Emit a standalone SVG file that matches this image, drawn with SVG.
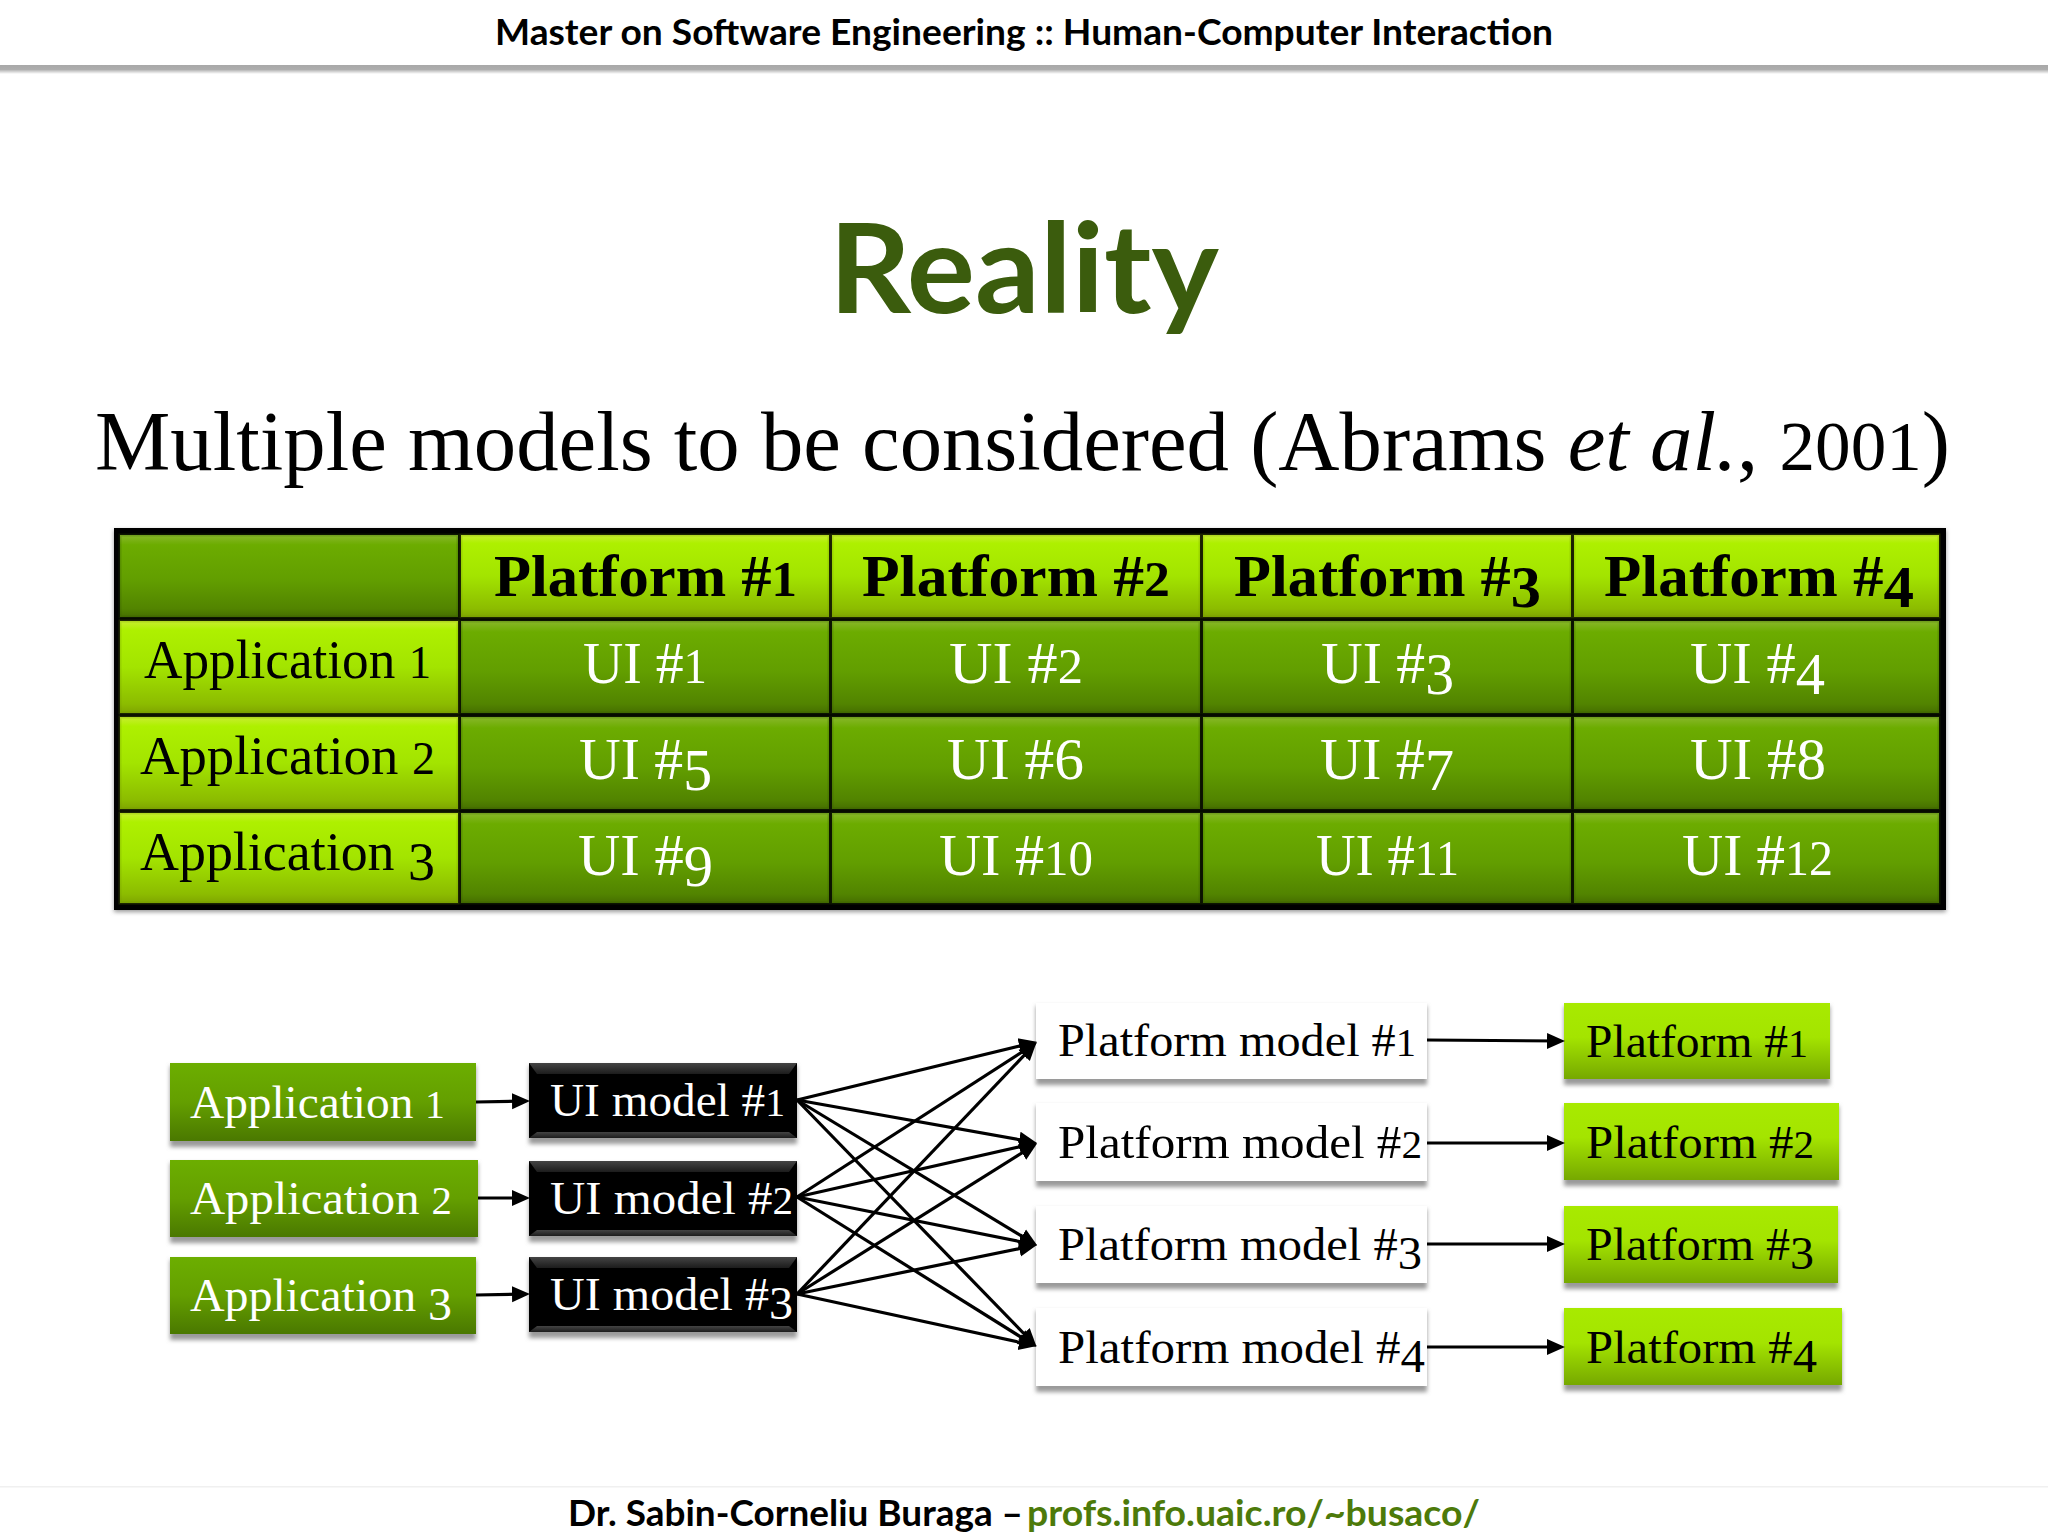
<svg xmlns="http://www.w3.org/2000/svg" width="2048" height="1536" viewBox="0 0 2048 1536">
<defs>
<linearGradient id="light" x1="0" y1="0" x2="0" y2="1"><stop offset="0" stop-color="#c8ee30"/><stop offset=".1" stop-color="#aef000"/><stop offset=".5" stop-color="#a3e400"/><stop offset=".9" stop-color="#8cbc00"/><stop offset="1" stop-color="#7fa600"/></linearGradient>
<linearGradient id="dark" x1="0" y1="0" x2="0" y2="1"><stop offset="0" stop-color="#88b82a"/><stop offset=".12" stop-color="#6cac00"/><stop offset=".55" stop-color="#629e00"/><stop offset=".9" stop-color="#528400"/><stop offset="1" stop-color="#466f00"/></linearGradient>
<linearGradient id="lime" x1="0" y1="0" x2="0" y2="1"><stop offset="0" stop-color="#a8ea00"/><stop offset=".45" stop-color="#a4e400"/><stop offset="1" stop-color="#76a800"/></linearGradient>
<linearGradient id="moss" x1="0" y1="0" x2="0" y2="1"><stop offset="0" stop-color="#6cae00"/><stop offset=".5" stop-color="#649f00"/><stop offset="1" stop-color="#4a7800"/></linearGradient>
<linearGradient id="strip" x1="0" y1="0" x2="0" y2="1"><stop offset="0" stop-color="#444"/><stop offset="1" stop-color="#1c1c1c"/></linearGradient>
<linearGradient id="band" x1="0" y1="0" x2="0" y2="1"><stop offset="0" stop-color="#a8a8a8"/><stop offset=".5" stop-color="#aeaeae"/><stop offset="1" stop-color="#fff"/></linearGradient>
<filter id="soft" x="-5%" y="-20%" width="110%" height="140%"><feGaussianBlur stdDeviation="2"/></filter>
<marker id="ah" markerUnits="userSpaceOnUse" markerWidth="18" markerHeight="18" refX="13" refY="9" orient="auto"><path d="M0 1L18 9L0 17Z" fill="#000"/></marker>
</defs>
<style>
.ser{font-family:"Liberation Serif","Times New Roman",serif}
.san{font-family:Lato,"Liberation Sans",sans-serif;font-weight:700}
.hd{font-size:60px;font-weight:700;fill:#000}
.app{font-size:54px;fill:#000}
.ui{font-size:60px;fill:#fff}
.lb{font-size:47px}
.w{fill:#fff}
.k{fill:#000}
.x{font-size:84%}
.sh{fill:#9a9a9a;filter:url(#soft)}
.c{stroke:#000;stroke-width:3.2;fill:none;marker-end:url(#ah)}
.li{fill:url(#light);stroke:#6f9200;stroke-opacity:.25;stroke-width:3}
.da{fill:url(#dark);stroke:#2f5500;stroke-opacity:.25;stroke-width:3}
.lm{fill:url(#lime)}
.ms{fill:url(#moss)}
.bk{fill:#000}
.st{fill:url(#strip)}
</style>
<rect width="2048" height="1536" fill="#fff"/>
<g id="header">
<rect x="0" y="65" width="2048" height="9" fill="url(#band)"/>
<text class="san" x="495" y="45" font-size="36" fill="#000" textLength="1058" lengthAdjust="spacingAndGlyphs">Master on Software Engineering :: Human-Computer Interaction</text>
</g>
<text id="title" class="san" x="829" y="313" font-size="124" fill="#3b5c0d" textLength="390" lengthAdjust="spacingAndGlyphs">Reality</text>
<text id="subtitle" class="ser" x="95" y="470" font-size="84" fill="#000" textLength="1855" lengthAdjust="spacingAndGlyphs">Multiple models to be considered (Abrams <tspan font-style="italic">et al.</tspan>, <tspan class="x">2001</tspan>)</text>
<g id="table">
<rect x="114" y="530" width="1832" height="382" fill="#999" filter="url(#soft)"/>
<rect x="114" y="528" width="1832" height="382" fill="#000"/>
<g id="cell-corner"><rect class="da" x="120" y="535" width="338" height="82"/></g>
<g id="cell-p1"><rect class="li" x="461" y="535" width="368" height="82"/><text class="ser hd" x="494" y="596" textLength="303" lengthAdjust="spacingAndGlyphs">Platform #<tspan class="x">1</tspan></text></g>
<g id="cell-p2"><rect class="li" x="832" y="535" width="368" height="82"/><text class="ser hd" x="862" y="596" textLength="308" lengthAdjust="spacingAndGlyphs">Platform #<tspan class="x">2</tspan></text></g>
<g id="cell-p3"><rect class="li" x="1203" y="535" width="368" height="82"/><text class="ser hd" x="1234" y="596" textLength="307" lengthAdjust="spacingAndGlyphs">Platform #<tspan dy="11">3</tspan></text></g>
<g id="cell-p4"><rect class="li" x="1574" y="535" width="365" height="82"/><text class="ser hd" x="1604" y="596" textLength="310" lengthAdjust="spacingAndGlyphs">Platform #<tspan dy="11">4</tspan></text></g>
<g id="cell-a1"><rect class="li" x="120" y="621" width="338" height="92"/><text class="ser app" x="144" y="678" textLength="287" lengthAdjust="spacingAndGlyphs">Application <tspan class="x">1</tspan></text></g>
<g id="cell-a2"><rect class="li" x="120" y="717" width="338" height="92"/><text class="ser app" x="140" y="774" textLength="295" lengthAdjust="spacingAndGlyphs">Application <tspan class="x">2</tspan></text></g>
<g id="cell-a3"><rect class="li" x="120" y="813" width="338" height="90"/><text class="ser app" x="140" y="870" textLength="295" lengthAdjust="spacingAndGlyphs">Application <tspan dy="10">3</tspan></text></g>
<g id="cell-ui1"><rect class="da" x="461" y="621" width="368" height="92"/><text class="ser ui" x="583" y="683" textLength="124" lengthAdjust="spacingAndGlyphs">UI #<tspan class="x">1</tspan></text></g>
<g id="cell-ui2"><rect class="da" x="832" y="621" width="368" height="92"/><text class="ser ui" x="949" y="683" textLength="134" lengthAdjust="spacingAndGlyphs">UI #<tspan class="x">2</tspan></text></g>
<g id="cell-ui3"><rect class="da" x="1203" y="621" width="368" height="92"/><text class="ser ui" x="1321" y="683" textLength="133" lengthAdjust="spacingAndGlyphs">UI #<tspan dy="11">3</tspan></text></g>
<g id="cell-ui4"><rect class="da" x="1574" y="621" width="365" height="92"/><text class="ser ui" x="1690" y="683" textLength="135" lengthAdjust="spacingAndGlyphs">UI #<tspan dy="11">4</tspan></text></g>
<g id="cell-ui5"><rect class="da" x="461" y="717" width="368" height="92"/><text class="ser ui" x="579" y="779" textLength="133" lengthAdjust="spacingAndGlyphs">UI #<tspan dy="11">5</tspan></text></g>
<g id="cell-ui6"><rect class="da" x="832" y="717" width="368" height="92"/><text class="ser ui" x="947" y="779" textLength="137" lengthAdjust="spacingAndGlyphs">UI #6</text></g>
<g id="cell-ui7"><rect class="da" x="1203" y="717" width="368" height="92"/><text class="ser ui" x="1320" y="779" textLength="134" lengthAdjust="spacingAndGlyphs">UI #<tspan dy="11">7</tspan></text></g>
<g id="cell-ui8"><rect class="da" x="1574" y="717" width="365" height="92"/><text class="ser ui" x="1690" y="779" textLength="136" lengthAdjust="spacingAndGlyphs">UI #8</text></g>
<g id="cell-ui9"><rect class="da" x="461" y="813" width="368" height="90"/><text class="ser ui" x="578" y="875" textLength="135" lengthAdjust="spacingAndGlyphs">UI #<tspan dy="11">9</tspan></text></g>
<g id="cell-ui10"><rect class="da" x="832" y="813" width="368" height="90"/><text class="ser ui" x="939" y="875" textLength="154" lengthAdjust="spacingAndGlyphs">UI #<tspan class="x">10</tspan></text></g>
<g id="cell-ui11"><rect class="da" x="1203" y="813" width="368" height="90"/><text class="ser ui" x="1316" y="875" textLength="143" lengthAdjust="spacingAndGlyphs">UI #<tspan class="x">11</tspan></text></g>
<g id="cell-ui12"><rect class="da" x="1574" y="813" width="365" height="90"/><text class="ser ui" x="1682" y="875" textLength="151" lengthAdjust="spacingAndGlyphs">UI #<tspan class="x">12</tspan></text></g>
</g>
<g id="app1"><rect class="sh" x="170" y="1066" width="306" height="81"/><rect class="ms" x="170" y="1063" width="306" height="78"/><text class="ser lb w" x="190" y="1118" textLength="255" lengthAdjust="spacingAndGlyphs">Application <tspan class="x">1</tspan></text></g>
<g id="app2"><rect class="sh" x="170" y="1163" width="308" height="80"/><rect class="ms" x="170" y="1160" width="308" height="77"/><text class="ser lb w" x="190" y="1214" textLength="262" lengthAdjust="spacingAndGlyphs">Application <tspan class="x">2</tspan></text></g>
<g id="app3"><rect class="sh" x="170" y="1260" width="306" height="80"/><rect class="ms" x="170" y="1257" width="306" height="77"/><text class="ser lb w" x="190" y="1311" textLength="262" lengthAdjust="spacingAndGlyphs">Application <tspan dy="9">3</tspan></text></g>
<g id="uim1"><rect class="sh" x="529" y="1066" width="268" height="78"/><rect class="bk" x="529" y="1063" width="268" height="75"/><polygon class="st" points="529,1063 797,1063 789,1074 537,1074"/><polygon class="st" points="537,1132 789,1132 797,1138 529,1138"/><text class="ser lb w" x="550" y="1116" textLength="235" lengthAdjust="spacingAndGlyphs">UI model #<tspan class="x">1</tspan></text></g>
<g id="uim2"><rect class="sh" x="529" y="1164" width="268" height="78"/><rect class="bk" x="529" y="1161" width="268" height="75"/><polygon class="st" points="529,1161 797,1161 789,1172 537,1172"/><polygon class="st" points="537,1230 789,1230 797,1236 529,1236"/><text class="ser lb w" x="550" y="1214" textLength="243" lengthAdjust="spacingAndGlyphs">UI model #<tspan class="x">2</tspan></text></g>
<g id="uim3"><rect class="sh" x="529" y="1260" width="268" height="78"/><rect class="bk" x="529" y="1257" width="268" height="75"/><polygon class="st" points="529,1257 797,1257 789,1268 537,1268"/><polygon class="st" points="537,1326 789,1326 797,1332 529,1332"/><text class="ser lb w" x="550" y="1310" textLength="243" lengthAdjust="spacingAndGlyphs">UI model #<tspan dy="9">3</tspan></text></g>
<g id="pm1"><rect class="sh" x="1036" y="1006" width="391" height="79"/><rect fill="#fff" x="1036" y="1003" width="391" height="76"/><text class="ser lb k" x="1058" y="1056" textLength="358" lengthAdjust="spacingAndGlyphs">Platform model #<tspan class="x">1</tspan></text></g>
<g id="pm2"><rect class="sh" x="1036" y="1106" width="391" height="81"/><rect fill="#fff" x="1036" y="1103" width="391" height="78"/><text class="ser lb k" x="1058" y="1158" textLength="364" lengthAdjust="spacingAndGlyphs">Platform model #<tspan class="x">2</tspan></text></g>
<g id="pm3"><rect class="sh" x="1036" y="1209" width="391" height="80"/><rect fill="#fff" x="1036" y="1206" width="391" height="77"/><text class="ser lb k" x="1058" y="1260" textLength="364" lengthAdjust="spacingAndGlyphs">Platform model #<tspan dy="9">3</tspan></text></g>
<g id="pm4"><rect class="sh" x="1036" y="1311" width="391" height="81"/><rect fill="#fff" x="1036" y="1308" width="391" height="78"/><text class="ser lb k" x="1058" y="1363" textLength="367" lengthAdjust="spacingAndGlyphs">Platform model #<tspan dy="9">4</tspan></text></g>
<g id="plat1"><rect class="sh" x="1564" y="1006" width="266" height="79"/><rect class="lm" x="1564" y="1003" width="266" height="76"/><text class="ser lb k" x="1586" y="1057" textLength="222" lengthAdjust="spacingAndGlyphs">Platform #<tspan class="x">1</tspan></text></g>
<g id="plat2"><rect class="sh" x="1564" y="1106" width="275" height="80"/><rect class="lm" x="1564" y="1103" width="275" height="77"/><text class="ser lb k" x="1586" y="1158" textLength="228" lengthAdjust="spacingAndGlyphs">Platform #<tspan class="x">2</tspan></text></g>
<g id="plat3"><rect class="sh" x="1564" y="1209" width="274" height="80"/><rect class="lm" x="1564" y="1206" width="274" height="77"/><text class="ser lb k" x="1586" y="1260" textLength="228" lengthAdjust="spacingAndGlyphs">Platform #<tspan dy="9">3</tspan></text></g>
<g id="plat4"><rect class="sh" x="1564" y="1311" width="278" height="80"/><rect class="lm" x="1564" y="1308" width="278" height="77"/><text class="ser lb k" x="1586" y="1363" textLength="231" lengthAdjust="spacingAndGlyphs">Platform #<tspan dy="9">4</tspan></text></g>
<g id="connectors">
<line class="c" x1="476" y1="1102" x2="525" y2="1101"/>
<line class="c" x1="478" y1="1198" x2="525" y2="1198"/>
<line class="c" x1="476" y1="1295" x2="525" y2="1294"/>
<line class="c" x1="797" y1="1100" x2="1032" y2="1043"/>
<line class="c" x1="797" y1="1100" x2="1032" y2="1142"/>
<line class="c" x1="797" y1="1100" x2="1033" y2="1243"/>
<line class="c" x1="797" y1="1100" x2="1033" y2="1343"/>
<line class="c" x1="797" y1="1197" x2="1033" y2="1045"/>
<line class="c" x1="797" y1="1197" x2="1032" y2="1144"/>
<line class="c" x1="797" y1="1197" x2="1032" y2="1244"/>
<line class="c" x1="797" y1="1197" x2="1032" y2="1344"/>
<line class="c" x1="797" y1="1294" x2="1033" y2="1046"/>
<line class="c" x1="797" y1="1294" x2="1033" y2="1146"/>
<line class="c" x1="797" y1="1294" x2="1032" y2="1246"/>
<line class="c" x1="797" y1="1294" x2="1032" y2="1345"/>
<line class="c" x1="1427" y1="1040" x2="1560" y2="1041"/>
<line class="c" x1="1427" y1="1143" x2="1560" y2="1143"/>
<line class="c" x1="1427" y1="1244" x2="1560" y2="1244"/>
<line class="c" x1="1427" y1="1347" x2="1560" y2="1347"/>
</g>
<g id="footer">
<rect x="0" y="1486" width="2048" height="1.5" fill="#f0f0f0"/>
<text class="san" x="568" y="1526" font-size="36" fill="#000" textLength="455" lengthAdjust="spacingAndGlyphs">Dr. Sabin-Corneliu Buraga –</text>
<text class="san" x="1027" y="1526" font-size="36" fill="#4d7a0a" textLength="453" lengthAdjust="spacingAndGlyphs">profs.info.uaic.ro/~busaco/</text>
</g>
</svg>
